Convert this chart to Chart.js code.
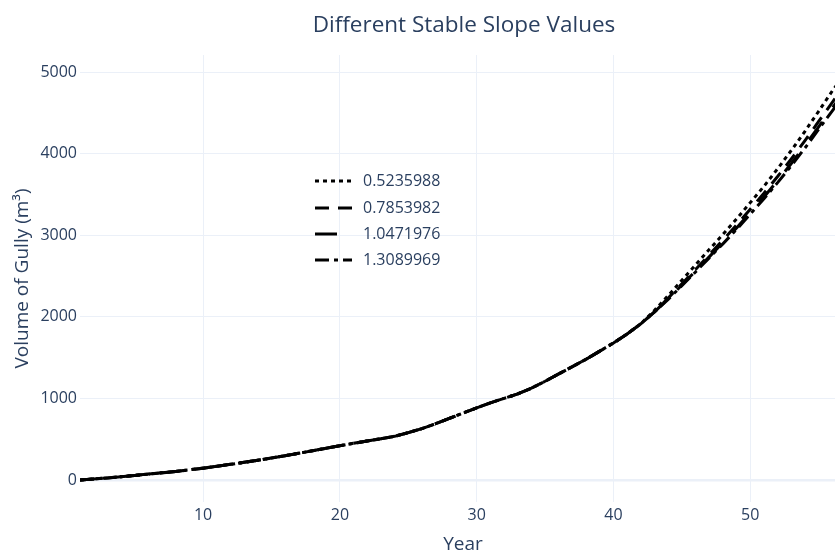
<!DOCTYPE html>
<html>
<head>
<meta charset="utf-8">
<title>Different Stable Slope Values</title>
<script src="https://cdn.jsdelivr.net/npm/chart.js@4/dist/chart.umd.min.js"></script>
<style>
  html, body { margin: 0; padding: 0; overflow: hidden; background: #fff; }
  #gully-chart { display: block; }
</style>
</head>
<body>
<canvas id="gully-chart" width="928" height="554"></canvas>
<script>
// values
const years = [1, 2, 3, 4, 5, 6, 7, 8, 9, 10, 11, 12, 13, 14, 15, 16, 17, 18, 19, 20,
  21, 22, 23, 24, 25, 26, 27, 28, 29, 30, 31, 32, 33, 34, 35, 36, 37, 38, 39, 40,
  41, 42, 43, 44, 45, 46, 47, 48, 49, 50, 51, 52, 53, 54, 55, 56, 57];

const slopeLabels = ["0.5235988", "0.7853982", "1.0471976", "1.3089969"];

const volSlope1 = [0, 12, 25, 40, 56, 72, 88, 105, 124, 145, 168, 192, 216, 242, 270, 298, 328, 358, 390, 420,
  450, 478, 505, 535, 580, 630, 690, 755, 820, 885, 945, 1000, 1055, 1125, 1210, 1300, 1390, 1480, 1580, 1680,
  1790, 1915, 2080, 2260, 2450, 2635, 2825, 3010, 3200, 3400, 3600, 3815, 4040, 4275, 4520, 4770, 5000];

const volSlope2 = [0, 12, 25, 40, 56, 72, 88, 105, 124, 145, 168, 192, 216, 242, 270, 298, 328, 358, 390, 420,
  450, 478, 505, 535, 580, 630, 690, 755, 820, 885, 945, 1000, 1055, 1125, 1210, 1300, 1390, 1480, 1580, 1680,
  1790, 1915, 2060, 2230, 2405, 2580, 2760, 2940, 3125, 3320, 3515, 3720, 3935, 4160, 4395, 4630, 4865];

const volSlope3 = [0, 12, 25, 40, 56, 72, 88, 105, 124, 145, 168, 192, 216, 242, 270, 298, 328, 358, 390, 420,
  450, 478, 505, 535, 580, 630, 690, 755, 820, 885, 945, 1000, 1055, 1125, 1210, 1300, 1390, 1480, 1580, 1680,
  1790, 1915, 2060, 2220, 2390, 2560, 2735, 2910, 3090, 3280, 3470, 3670, 3880, 4100, 4330, 4560, 4790];

const volSlope4 = [0, 12, 25, 40, 56, 72, 88, 105, 124, 145, 168, 192, 216, 242, 270, 298, 328, 358, 390, 420,
  450, 478, 505, 535, 580, 630, 690, 755, 820, 885, 945, 1000, 1055, 1125, 1210, 1300, 1390, 1480, 1580, 1680,
  1790, 1915, 2060, 2215, 2382, 2550, 2723, 2895, 3072, 3260, 3448, 3645, 3852, 4070, 4298, 4525, 4752];

const xTicks = [10, 20, 30, 40, 50];
const yTicks = [0, 1000, 2000, 3000, 4000, 5000];

const chartTitle = "Different Stable Slope Values";
const textColor = "#2a3f5f";
const gridColor = "#ebf0f8";
const fontFamily = "'Open Sans', sans-serif";

const seriesList = [volSlope1, volSlope2, volSlope3, volSlope4];
const dashes = [[4, 4], [14, 9], [22, 18], [14, 5, 4, 5]];

const datasets = seriesList.map((vals, i) => ({
  label: slopeLabels[i],
  data: years.map((yr, j) => ({ x: yr, y: vals[j] })),
  borderColor: "#000",
  borderWidth: 3,
  borderDash: dashes[i],
  borderCapStyle: "butt",
  pointRadius: 0,
  fill: false,
  tension: 0
}));

// title is centred on the whole (uncropped) figure, legend sits inside the plot
const plotlyBits = {
  id: "plotlyBits",
  afterDraw(chart) {
    const ctx = chart.ctx;
    ctx.save();
    ctx.fillStyle = textColor;
    ctx.font = "22.5px " + fontFamily;
    ctx.textAlign = "center";
    ctx.textBaseline = "middle";
    ctx.fillText(chartTitle, chart.width / 2, 26);

    const rows = [181, 208, 234, 260];
    chart.data.datasets.forEach((ds, i) => {
      const y = rows[i];
      ctx.beginPath();
      ctx.setLineDash(ds.borderDash);
      ctx.lineWidth = 3;
      ctx.strokeStyle = ds.borderColor;
      ctx.moveTo(315, y);
      ctx.lineTo(352, y);
      ctx.stroke();
      ctx.setLineDash([]);
      ctx.font = "16px " + fontFamily;
      ctx.textAlign = "left";
      ctx.fillText(ds.label, 363, y);
    });
    ctx.restore();
  }
};

new Chart(document.getElementById("gully-chart"), {
  type: "line",
  data: { datasets },
  plugins: [plotlyBits],
  options: {
    responsive: false,
    animation: false,
    layout: { padding: { left: 0, right: 82, top: 55, bottom: 0 } },
    plugins: {
      legend: { display: false },
      tooltip: { enabled: false },
      title: { display: false }
    },
    scales: {
      x: {
        type: "linear",
        min: 1,
        max: 57,
        afterBuildTicks: scale => { scale.ticks = xTicks.map(v => ({ value: v })); },
        afterFit: scale => { scale.height = 52; },
        grid: { color: gridColor, drawTicks: false },
        border: { display: false },
        ticks: {
          color: textColor,
          padding: 4,
          font: { family: fontFamily, size: 16 },
          callback: v => String(v)
        },
        title: {
          display: true,
          text: "Year",
          color: textColor,
          font: { family: fontFamily, size: 19, lineHeight: 1 },
          padding: { top: 0, bottom: 0 }
        }
      },
      y: {
        min: -270,
        max: 5210,
        afterBuildTicks: scale => { scale.ticks = yTicks.map(v => ({ value: v })); },
        afterFit: scale => { scale.width = 80; },
        grid: {
          color: gridColor,
          drawTicks: false,
          lineWidth: c => (c.tick && c.tick.value === 0 ? 2.5 : 1)
        },
        border: { display: false },
        ticks: {
          color: textColor,
          padding: 3,
          font: { family: fontFamily, size: 16 },
          callback: v => String(v)
        },
        title: {
          display: true,
          text: "Volume of Gully (m³)",
          color: textColor,
          font: { family: fontFamily, size: 19, lineHeight: 1.2 },
          padding: { top: 11, bottom: 0 }
        }
      }
    }
  }
});
</script>
</body>
</html>
